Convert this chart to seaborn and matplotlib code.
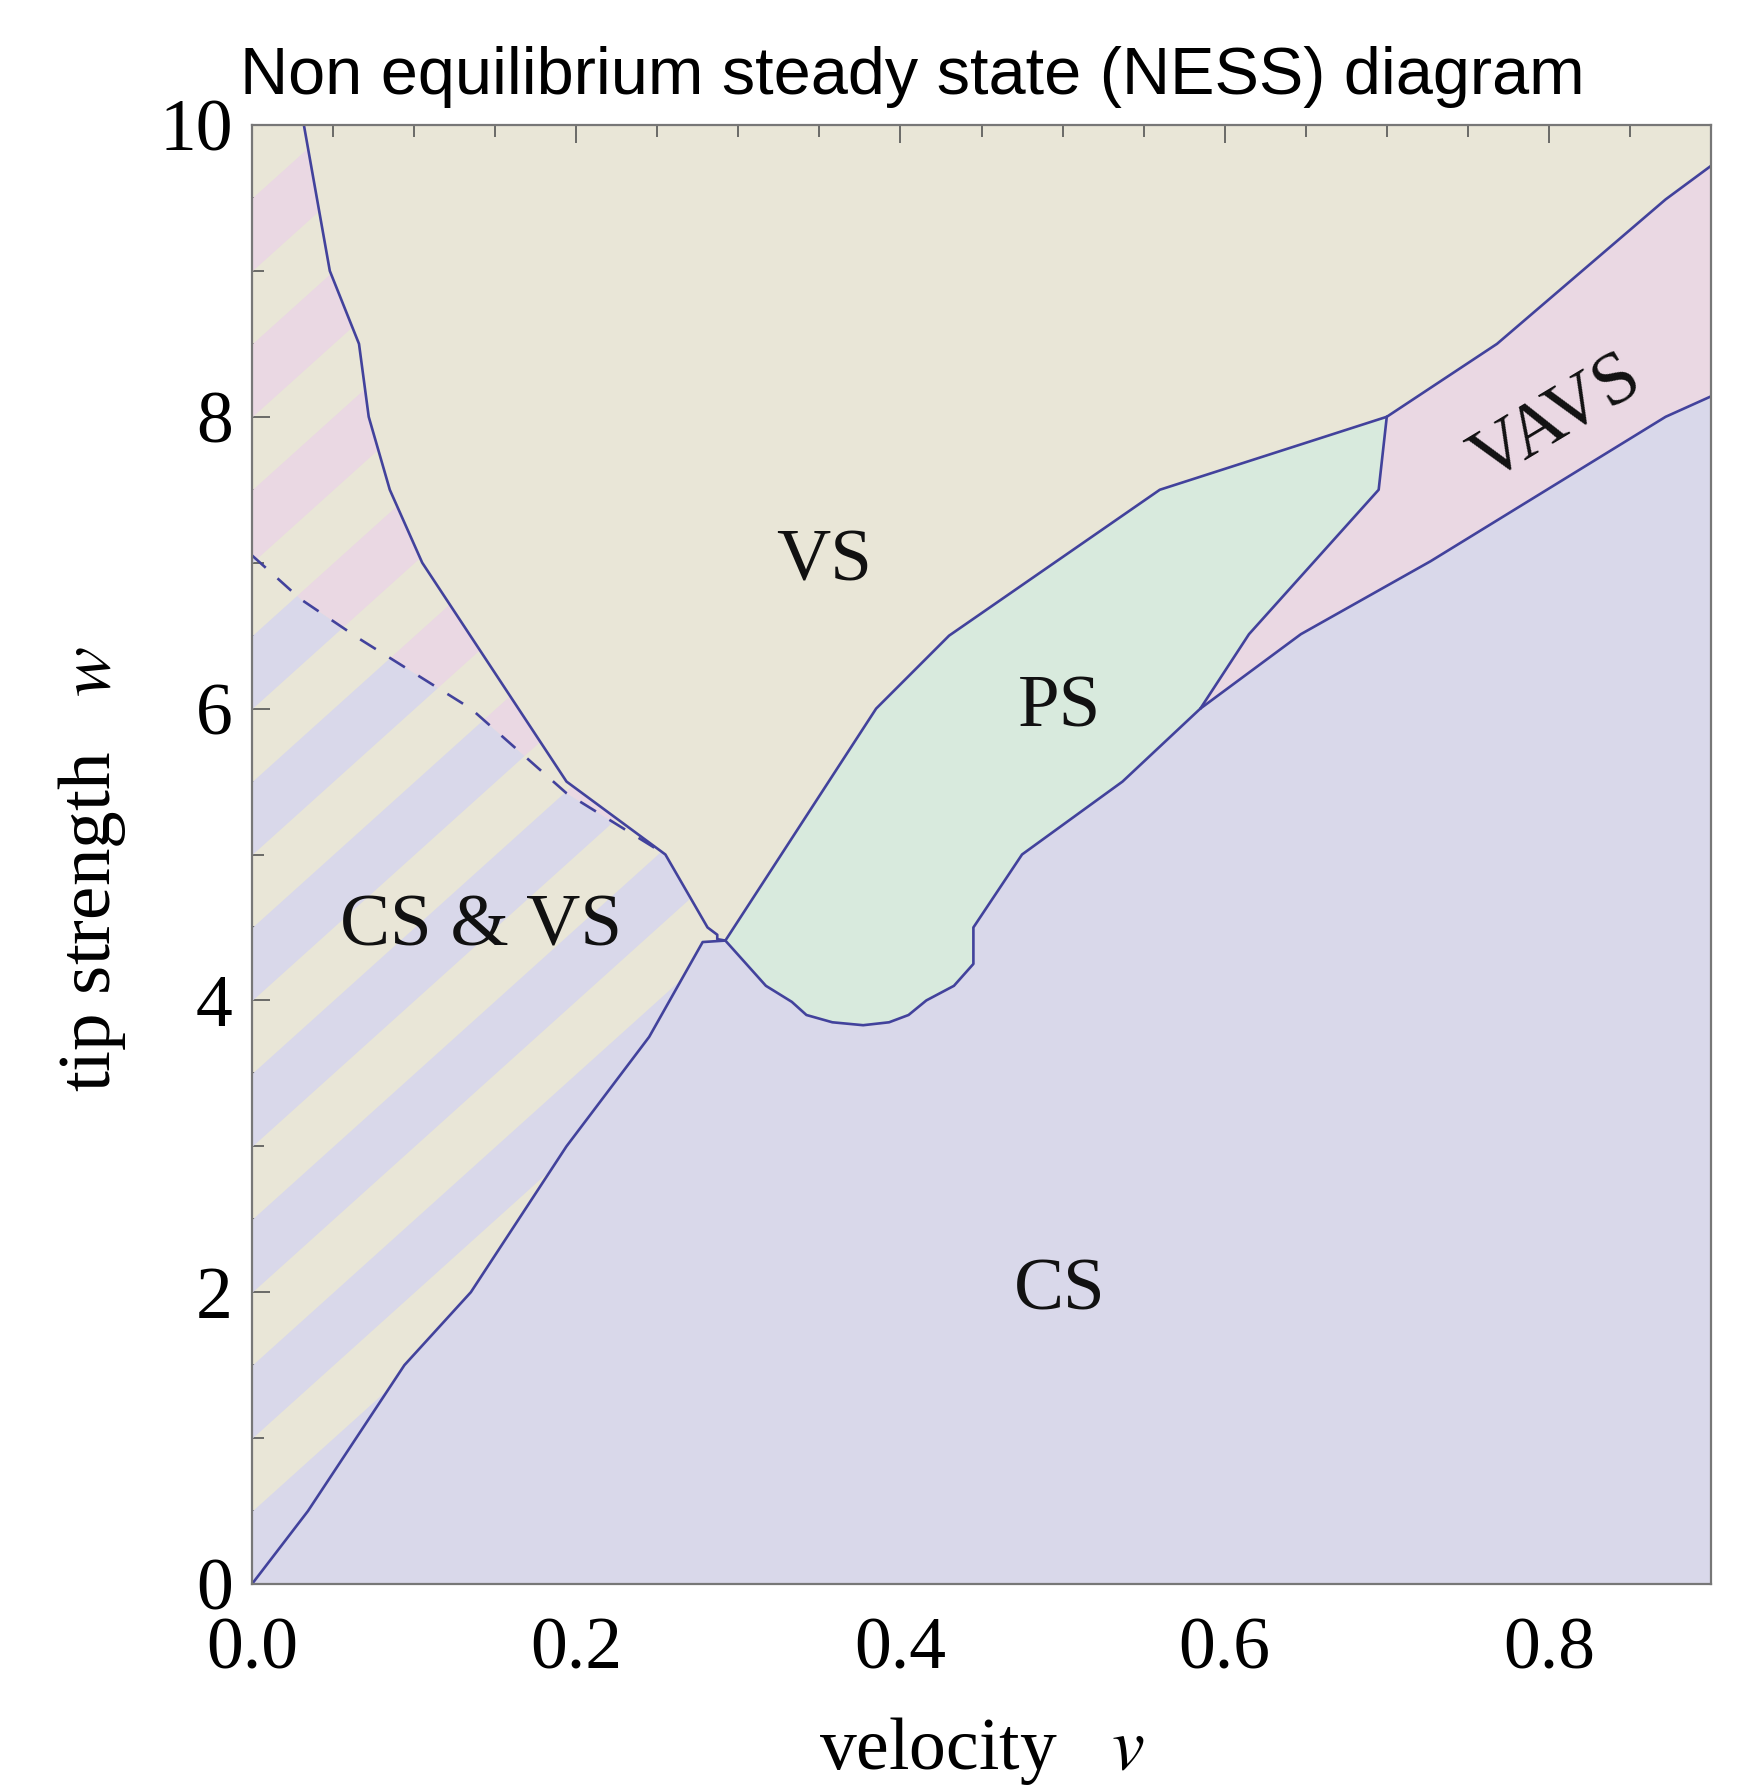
import numpy as np
import seaborn as sns
import matplotlib.pyplot as plt
from matplotlib.patches import Polygon
from matplotlib.ticker import MultipleLocator

sns.set_style('ticks')
plt.rcParams['font.family'] = ['Liberation Serif', 'DejaVu Serif']
plt.rcParams['mathtext.fontset'] = 'stix'
plt.rcParams['text.color'] = 'black'

# boundary lines, velocity v / tip strength w
vs_left_v = [0.032, 0.048, 0.066, 0.072, 0.085, 0.105, 0.194, 0.255, 0.281, 0.287, 0.287, 0.292]
vs_left_w = [10.0, 9.0, 8.5, 8.0, 7.5, 7.0, 5.5, 5.0, 4.5, 4.45, 4.42, 4.41]

cs_left_v = [0.0, 0.0345, 0.094, 0.135, 0.194, 0.228, 0.245, 0.278, 0.292]
cs_left_w = [0.0, 0.5, 1.5, 2.0, 3.0, 3.5, 3.75, 4.40, 4.41]

dash_v = [0.0, 0.03, 0.066, 0.135, 0.194, 0.255]
dash_w = [7.05, 6.75, 6.48, 6.0, 5.42, 5.0]

ps_top_v = [0.292, 0.385, 0.430, 0.560, 0.700]
ps_top_w = [4.41, 6.0, 6.5, 7.5, 8.0]

vavs_top_v = [0.700, 0.768, 0.872, 0.9]
vavs_top_w = [8.0, 8.5, 9.49, 9.72]

ps_right_v = [0.700, 0.695, 0.615, 0.585]
ps_right_w = [8.0, 7.5, 6.51, 6.0]

ps_bottom_v = [0.292, 0.317, 0.333, 0.342, 0.358, 0.377, 0.393, 0.405, 0.416, 0.433,
               0.445, 0.445, 0.475, 0.537, 0.585]
ps_bottom_w = [4.41, 4.10, 3.99, 3.90, 3.85, 3.83, 3.85, 3.90, 4.0, 4.10,
               4.25, 4.50, 5.0, 5.5, 6.0]

vavs_bottom_v = [0.585, 0.647, 0.727, 0.872, 0.9]
vavs_bottom_w = [6.0, 6.51, 7.01, 8.0, 8.14]

region_names = ['VS', 'PS', 'CS & VS', 'CS', 'VAVS']
region_v = [0.353, 0.498, 0.141, 0.498, 0.805]
region_w = [7.0, 6.0, 4.5, 2.0, 7.97]
region_rot = [0, 0, 0, 0, 31]

x_ticks = [0.0, 0.2, 0.4, 0.6, 0.8]
x_ticklabels = ['0.0', '0.2', '0.4', '0.6', '0.8']
y_ticks = [0, 2, 4, 6, 8, 10]
y_ticklabels = ['0', '2', '4', '6', '8', '10']

c_vs = '#e9e6d7'
c_cs = '#d9d8ea'
c_ps = '#d8eadd'
c_vavs = '#ead8e3'
c_line = '#42429c'

fig = plt.figure(figsize=(17.6, 17.89), dpi=100)
ax = fig.add_axes([252/1760, 1 - 1584/1789, 1459/1760, 1459/1789])
ax.set_facecolor(c_vs)

def pts(*parts):
    v = np.concatenate([np.asarray(p[0], float) for p in parts])
    w = np.concatenate([np.asarray(p[1], float) for p in parts])
    return v, w

# CS region
v, w = pts((cs_left_v, cs_left_w), (ps_bottom_v[1:], ps_bottom_w[1:]),
           (vavs_bottom_v[1:], vavs_bottom_w[1:]), ([0.9, 0.0], [0.0, 0.0]))
ax.fill(v, w, color=c_cs, lw=0)
# PS region
v, w = pts((ps_top_v, ps_top_w), (ps_right_v[1:], ps_right_w[1:]),
           (ps_bottom_v[::-1][1:], ps_bottom_w[::-1][1:]))
ax.fill(v, w, color=c_ps, lw=0)
# VAVS region
v, w = pts((ps_right_v, ps_right_w), (vavs_bottom_v[1:], vavs_bottom_w[1:]),
           (vavs_top_v[::-1], vavs_top_w[::-1]))
ax.fill(v, w, color=c_vavs, lw=0)

# bistable (hatched) parts
pink_v, pink_w = pts(([0.0], [10.0]), (vs_left_v[:8], vs_left_w[:8]),
                     (dash_v[::-1], dash_w[::-1]))
blue_v, blue_w = pts((dash_v, dash_w), (vs_left_v[8:], vs_left_w[8:]),
                     (cs_left_v[::-1], cs_left_w[::-1]))
sv = np.array([0.0, 0.35])
for xs, ys, col in [(pink_v, pink_w, c_vavs), (blue_v, blue_w, c_cs)]:
    clip = Polygon(np.column_stack([xs, ys]), closed=True, transform=ax.transData)
    for k in np.arange(-4.0, 11.0, 1.0):
        band = ax.fill_between(sv, 10 * sv + k, 10 * sv + k + 0.5, color=col, lw=0)
        band.set_clip_path(clip)

# boundary lines
for xs, ys in [(vs_left_v, vs_left_w), (cs_left_v, cs_left_w), (ps_top_v, ps_top_w),
               (vavs_top_v, vavs_top_w), (ps_right_v, ps_right_w),
               (ps_bottom_v, ps_bottom_w), (vavs_bottom_v, vavs_bottom_w)]:
    sns.lineplot(x=xs, y=ys, sort=False, estimator=None, color=c_line, lw=1.9, ax=ax)
sns.lineplot(x=dash_v, y=dash_w, sort=False, estimator=None, color=c_line, lw=1.9,
             linestyle=(0, (7, 6)), ax=ax)

for name, v0, w0, r in zip(region_names, region_v, region_w, region_rot):
    ax.text(v0, w0, name, fontsize=54, color='#111111', ha='center', va='center',
            rotation=r, rotation_mode='anchor')

ax.set_xlim(0, 0.9)
ax.set_ylim(0, 10)
ax.set_xticks(x_ticks)
ax.set_xticklabels(x_ticklabels)
ax.set_yticks(y_ticks)
ax.set_yticklabels(y_ticklabels)
ax.xaxis.set_minor_locator(MultipleLocator(0.05))
ax.yaxis.set_minor_locator(MultipleLocator(0.5))
ax.tick_params(which='both', direction='in', top=True, right=True, color='#555555',
               width=1.2, labelcolor='black')
ax.tick_params(which='major', length=13, labelsize=53, pad=14)
ax.tick_params(axis='x', which='major', pad=24)
ax.tick_params(which='minor', length=8.5)
for s in ax.spines.values():
    s.set_color('#777777')
    s.set_linewidth(1.6)

ax.set_xlabel('velocity   $v$', fontsize=53, color='black')
ax.set_ylabel('tip strength   $w$', fontsize=54, color='black')
ax.xaxis.set_label_coords(0.5, -0.09)
ax.yaxis.set_label_coords(-0.085, 0.49)

fig.text(912/1760, 1 - 77/1789, 'Non equilibrium steady state (NESS) diagram',
         family='Liberation Sans', fontsize=48, color='black', ha='center', va='center')

plt.savefig('out.png', dpi=100)
